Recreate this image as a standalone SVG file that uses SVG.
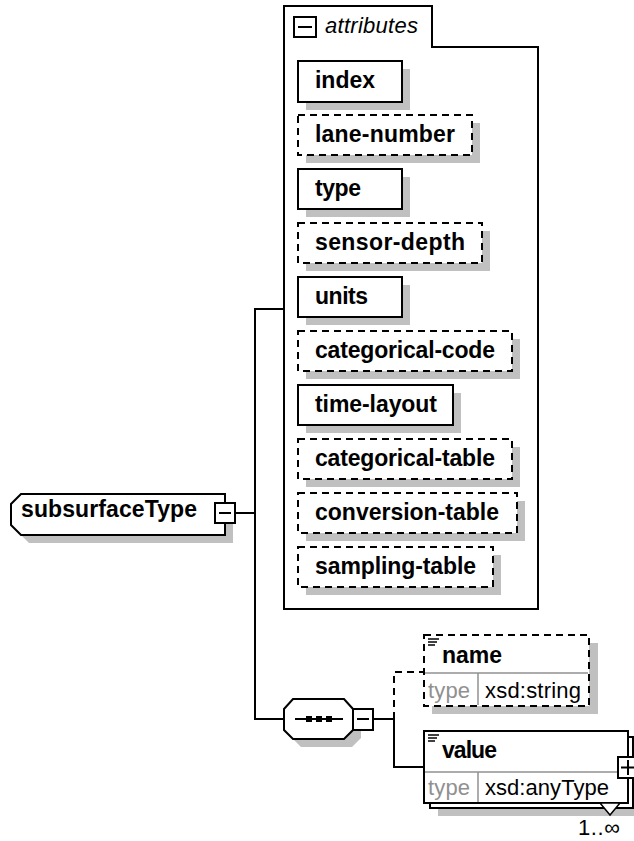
<svg xmlns="http://www.w3.org/2000/svg" width="634" height="841" viewBox="0 0 634 841">
<style>
.t{font-family:"Liberation Sans",Arial,sans-serif;font-size:23px;font-weight:bold;fill:#000}
.n{font-family:"Liberation Sans",Arial,sans-serif;font-size:22px;fill:#000}
.g{font-family:"Liberation Sans",Arial,sans-serif;font-size:22px;fill:#909090}
.it{font-family:"Liberation Sans",Arial,sans-serif;font-size:22px;font-style:italic;fill:#000}
.box{fill:#fff;stroke:#000;stroke-width:2}
.dbox{fill:#fff;stroke:#000;stroke-width:2;stroke-dasharray:7 5}
.sh{fill:#c0c0c0}
.ln{fill:none;stroke:#000;stroke-width:2}
.dl{fill:none;stroke:#000;stroke-width:2;stroke-dasharray:7 5}
.dv{fill:none;stroke:#909090;stroke-width:1.5}
</style>
<rect width="634" height="841" fill="#fff"/>
<g id="connectors">
<polyline class="ln" points="235,513 255,513"/>
<polyline class="ln" points="284,309 255,309 255,719 284,719"/>
<polyline class="ln" points="373,719 394,719 394,767 424,767"/>
<polyline class="dl" points="394,719 394,672 424,672"/>
</g>
<g id="attributes">
<polygon class="box" points="284,6 432,6 432,47 538,47 538,609 284,609"/>
<rect class="box" x="294" y="17" width="22" height="20"/>
<line class="ln" x1="298" y1="27" x2="312" y2="27"/>
<text class="it" x="325" y="33" textLength="93">attributes</text>
</g>
<g id="attr-index">
<rect class="sh" x="306" y="69" width="104" height="41"/>
<rect class="box" x="298" y="61" width="104" height="41"/>
<text class="t" x="315" y="88" textLength="60">index</text>
</g>
<g id="attr-lane-number">
<rect class="sh" x="306" y="123" width="174" height="40"/>
<rect class="dbox" x="298" y="115" width="174" height="40"/>
<text class="t" x="315" y="142" textLength="140">lane-number</text>
</g>
<g id="attr-type">
<rect class="sh" x="306" y="177" width="104" height="40"/>
<rect class="box" x="298" y="169" width="104" height="40"/>
<text class="t" x="315" y="196" textLength="46">type</text>
</g>
<g id="attr-sensor-depth">
<rect class="sh" x="306" y="231" width="184" height="40"/>
<rect class="dbox" x="298" y="223" width="184" height="40"/>
<text class="t" x="315" y="250" textLength="150">sensor-depth</text>
</g>
<g id="attr-units">
<rect class="sh" x="306" y="285" width="104" height="40"/>
<rect class="box" x="298" y="277" width="104" height="40"/>
<text class="t" x="315" y="304" textLength="53">units</text>
</g>
<g id="attr-categorical-code">
<rect class="sh" x="306" y="339" width="214" height="40"/>
<rect class="dbox" x="298" y="331" width="214" height="40"/>
<text class="t" x="315" y="358" textLength="180">categorical-code</text>
</g>
<g id="attr-time-layout">
<rect class="sh" x="306" y="393" width="155" height="40"/>
<rect class="box" x="298" y="385" width="155" height="40"/>
<text class="t" x="315" y="412" textLength="122">time-layout</text>
</g>
<g id="attr-categorical-table">
<rect class="sh" x="306" y="447" width="214" height="40"/>
<rect class="dbox" x="298" y="439" width="214" height="40"/>
<text class="t" x="315" y="466" textLength="180">categorical-table</text>
</g>
<g id="attr-conversion-table">
<rect class="sh" x="306" y="501" width="219" height="40"/>
<rect class="dbox" x="298" y="493" width="219" height="40"/>
<text class="t" x="315" y="520" textLength="184">conversion-table</text>
</g>
<g id="attr-sampling-table">
<rect class="sh" x="306" y="555" width="195" height="40"/>
<rect class="dbox" x="298" y="547" width="195" height="40"/>
<text class="t" x="315" y="574" textLength="161">sampling-table</text>
</g>
<g id="subsurfaceType">
<polygon class="sh" points="29,502 233,502 233,543 29,543 19,533 19,512"/>
<polygon class="box" points="21,494 225,494 225,535 21,535 11,525 11,504"/>
<rect class="box" x="215" y="503" width="20" height="20"/>
<line class="ln" x1="219" y1="513" x2="231" y2="513"/>
<text class="t" x="21" y="517" textLength="176">subsurfaceType</text>
</g>
<g id="sequence">
<polygon class="sh" points="292,717 301,707 352,707 361,717 361,738 352,747 301,747 292,738"/>
<polygon class="box" points="284,709 293,699 344,699 353,709 353,730 344,739 293,739 284,730"/>
<line class="ln" x1="295" y1="719" x2="343" y2="719"/>
<rect x="306" y="716" width="6" height="6" fill="#000"/>
<rect x="316" y="716" width="6" height="6" fill="#000"/>
<rect x="326" y="716" width="6" height="6" fill="#000"/>
<rect class="box" x="353" y="709" width="20" height="21"/>
<line class="ln" x1="357" y1="719" x2="369" y2="719"/>
</g>
<g id="name">
<rect class="sh" x="432" y="643" width="166" height="71"/>
<rect class="dbox" x="424" y="635" width="165" height="71"/>
<line class="dv" x1="425" y1="673" x2="588" y2="673"/>
<line class="dv" x1="478" y1="673" x2="478" y2="705"/>
<line x1="428" y1="639" x2="439" y2="639" stroke="#000" stroke-width="1.5"/>
<line x1="428" y1="642" x2="437" y2="642" stroke="#000" stroke-width="1.5"/>
<line x1="428" y1="645" x2="435" y2="645" stroke="#000" stroke-width="1.5"/>
<text class="t" x="442" y="663" textLength="60">name</text>
<text class="g" x="428" y="698" textLength="42">type</text>
<text class="n" x="485" y="698" textLength="96">xsd:string</text>
</g>
<g id="value">
<rect class="sh" x="438" y="745" width="204" height="71"/>
<rect class="box" x="430" y="737" width="203" height="71"/>
<rect class="box" x="424" y="731" width="204" height="72"/>
<line class="dv" x1="425" y1="772" x2="627" y2="772"/>
<line class="dv" x1="478" y1="772" x2="478" y2="802"/>
<line x1="428" y1="735" x2="439" y2="735" stroke="#000" stroke-width="1.5"/>
<line x1="428" y1="738" x2="437" y2="738" stroke="#000" stroke-width="1.5"/>
<line x1="428" y1="741" x2="435" y2="741" stroke="#000" stroke-width="1.5"/>
<text class="t" x="442" y="758" textLength="55">value</text>
<text class="g" x="428" y="795" textLength="42">type</text>
<text class="n" x="485" y="795" textLength="124">xsd:anyType</text>
<rect class="box" x="618" y="757" width="20" height="21"/>
<line class="ln" x1="621" y1="767.5" x2="635" y2="767.5"/>
<line class="ln" x1="628" y1="760" x2="628" y2="775"/>
<polygon points="600,803 620,803 610,815" fill="#fff" stroke="#000" stroke-width="1.5"/>
<text class="n" x="578" y="835" textLength="42">1..∞</text>
</g>
</svg>
